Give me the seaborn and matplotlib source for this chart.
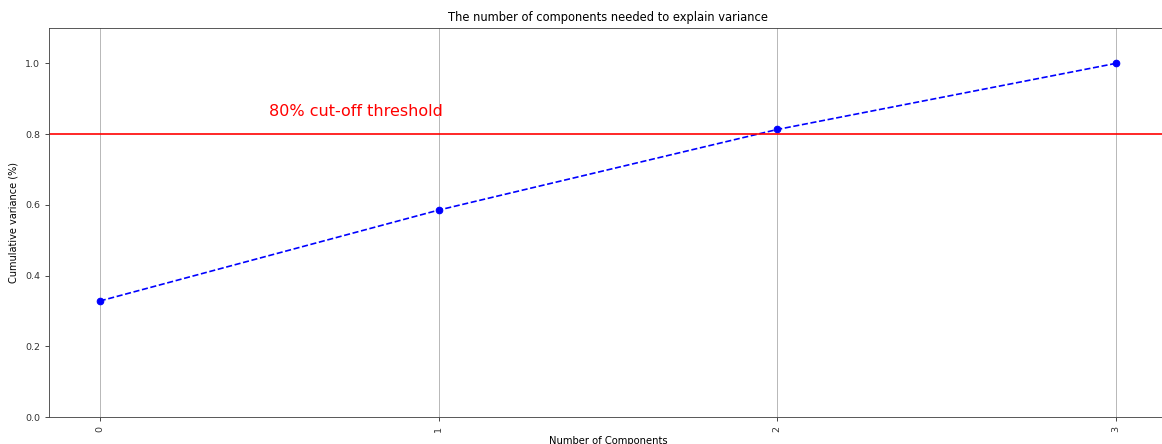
import matplotlib
matplotlib.use("Agg")
import matplotlib.pyplot as plt
import seaborn as sns
import pandas as pd

components = [0, 1, 2, 3]
cum_variance = [0.328, 0.585, 0.813, 1.0]
tick_labels = ["0", "1", "2", "3"]
threshold = 0.8
threshold_label = "80% cut-off threshold"

df = pd.DataFrame({"n": components, "v": cum_variance})

s = 0.79
fig = plt.figure(figsize=(11.62, 4.44), dpi=100)
ax = fig.add_axes([49 / 1162, (444 - 417) / 444, 1117.7 / 1162, 389 / 444])

sns.lineplot(data=df, x="n", y="v", ax=ax, color="b", marker="o", linestyle="--",
             linewidth=1.5 * s, markersize=6 * s, markeredgecolor="b")
ax.set_ylim(0.0, 1.1)
ax.set_xlim(-0.15, 3.15)
ax.set_xticks(components)
ax.set_xticklabels(tick_labels, rotation=90, fontsize=6.8)
ax.tick_params(axis="y", labelsize=6.8)
ax.tick_params(width=0.8 * s, length=3.5 * s, colors="#333333")
ax.set_xlabel("Number of Components", fontsize=7.2, labelpad=3)
ax.set_ylabel("Cumulative variance (%)", fontsize=7.0, labelpad=5)
ax.set_title("The number of components needed to explain variance", fontsize=8.3, pad=5)
ax.axhline(y=threshold, color="r", linestyle="-", linewidth=1.5 * s)
ax.text(0.5, 0.85, threshold_label, color="red", fontsize=11.5)
ax.grid(axis="x", linewidth=0.8 * s)
for sp in ax.spines.values():
    sp.set_linewidth(0.8 * s)
    sp.set_color("#444444")
ax.spines["right"].set_visible(False)

fig.savefig("out.png", dpi=100)
